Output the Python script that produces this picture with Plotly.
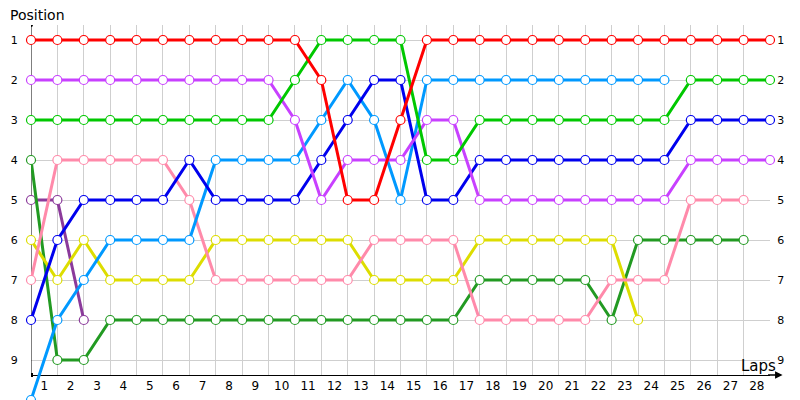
import plotly.graph_objects as go

# lap labels on the x axis, point index 0 = grid (start) position
laps = list(range(1, 29))
positions = list(range(1, 10))

red = [1, 1, 1, 1, 1, 1, 1, 1, 1, 1, 1, 2, 5, 5, 3, 1, 1, 1, 1, 1, 1, 1, 1, 1, 1, 1, 1, 1, 1]
green = [3, 3, 3, 3, 3, 3, 3, 3, 3, 3, 2, 1, 1, 1, 1, 4, 4, 3, 3, 3, 3, 3, 3, 3, 3, 2, 2, 2, 2]
violet = [2, 2, 2, 2, 2, 2, 2, 2, 2, 2, 3, 5, 4, 4, 4, 3, 3, 5, 5, 5, 5, 5, 5, 5, 5, 4, 4, 4, 4]
blue = [8, 6, 5, 5, 5, 5, 4, 5, 5, 5, 5, 4, 3, 2, 2, 5, 5, 4, 4, 4, 4, 4, 4, 4, 4, 3, 3, 3, 3]
lightblue = [10, 8, 7, 6, 6, 6, 6, 4, 4, 4, 4, 3, 2, 3, 5, 2, 2, 2, 2, 2, 2, 2, 2, 2, 2]
pink = [7, 4, 4, 4, 4, 4, 5, 7, 7, 7, 7, 7, 7, 6, 6, 6, 6, 8, 8, 8, 8, 8, 7, 7, 7, 5, 5, 5]
yellow = [6, 7, 6, 7, 7, 7, 7, 6, 6, 6, 6, 6, 6, 7, 7, 7, 7, 6, 6, 6, 6, 6, 6, 8]
darkgreen = [4, 9, 9, 8, 8, 8, 8, 8, 8, 8, 8, 8, 8, 8, 8, 8, 8, 7, 7, 7, 7, 7, 8, 6, 6, 6, 6, 6]
purple = [5, 5, 8]

series = [
    (purple, '#8b3a9b'),
    (darkgreen, '#229a22'),
    (yellow, '#dddd00'),
    (pink, '#ff8aaa'),
    (lightblue, '#0099ff'),
    (blue, '#0000ee'),
    (violet, '#c840ff'),
    (green, '#00c800'),
    (red, '#ff0000'),
]

fig = go.Figure()
for vals, col in series:
    fig.add_trace(go.Scatter(x=list(range(len(vals))), y=vals, mode='lines+markers',
                             line=dict(color=col, width=3),
                             marker=dict(size=9, color='white', line=dict(color=col, width=1.2)),
                             cliponaxis=False, showlegend=False, hoverinfo='skip'))

# dummy trace so the right hand axis is drawn
fig.add_trace(go.Scatter(x=[0], y=[1], yaxis='y2', mode='markers', marker=dict(opacity=0),
                         showlegend=False, hoverinfo='skip'))

font = 'DejaVu Sans'
axpos = 25 / 375

# page body adds 8px margin, so the plot area is shifted up/left by that much
fig.update_layout(
    width=800, height=400,
    margin=dict(l=23, r=38, t=17, b=8),
    plot_bgcolor='white', paper_bgcolor='white',
    font=dict(family=font, color='black'),
    xaxis=dict(range=[0, 28], tickvals=[k - 0.5 for k in laps], ticktext=[str(k) for k in laps],
               showgrid=False, zeroline=False, showline=True, linecolor='black', linewidth=1,
               ticks='', tickfont=dict(size=12), anchor='free', position=axpos, layer='below traces',
               automargin=False,
               minor=dict(tick0=0, dtick=1, showgrid=True, gridcolor='#cfcfcf', gridwidth=1)),
    yaxis=dict(range=[10, 0.625], tickvals=positions, showgrid=True, gridcolor='#cfcfcf',
               zeroline=False, showline=False, ticks='outside', ticklen=10, automargin=False,
               tickcolor='rgba(0,0,0,0)', tickfont=dict(size=11)),
    yaxis2=dict(range=[10, 0.625], tickvals=positions, overlaying='y', side='right',
                showgrid=False, zeroline=False, showline=False, ticks='outside', ticklen=4,
                automargin=False, tickcolor='rgba(0,0,0,0)', tickfont=dict(size=11)),
)

# hide vertical grid below the x axis, draw left axis line and its end dot
fig.add_shape(type='rect', xref='x', yref='y', x0=0, x1=28, y0=9.375, y1=10,
              fillcolor='white', line_width=0, layer='between')
fig.add_shape(type='line', xref='x', yref='y', x0=0, x1=0, y0=0.625, y1=9.375,
              line=dict(color='black', width=1), layer='between')
fig.add_shape(type='circle', xref='x', yref='y', xsizemode='pixel', ysizemode='pixel',
              xanchor=0, yanchor=0.625, x0=-2, x1=2, y0=-2, y1=2,
              fillcolor='black', line_width=0)
fig.add_shape(type='rect', xref='x', yref='y', xsizemode='pixel', ysizemode='pixel',
              xanchor=0, yanchor=9.375, x0=-2, x1=2, y0=-2, y1=2,
              fillcolor='black', line_width=0)

fig.add_annotation(xref='paper', yref='paper', x=1.017, y=axpos, ax=-16, ay=0,
                   showarrow=True, arrowhead=2, arrowsize=1, arrowwidth=1.5, arrowcolor='black', text='')
fig.add_annotation(xref='paper', yref='paper', x=-0.031, y=1.027, xanchor='left', yanchor='middle',
                   text='Position', showarrow=False, font=dict(size=14))
fig.add_annotation(xref='paper', yref='paper', x=0.984, y=0.09, xanchor='center', yanchor='middle',
                   text='Laps', showarrow=False, font=dict(size=15))

fig.write_html("out.html")
